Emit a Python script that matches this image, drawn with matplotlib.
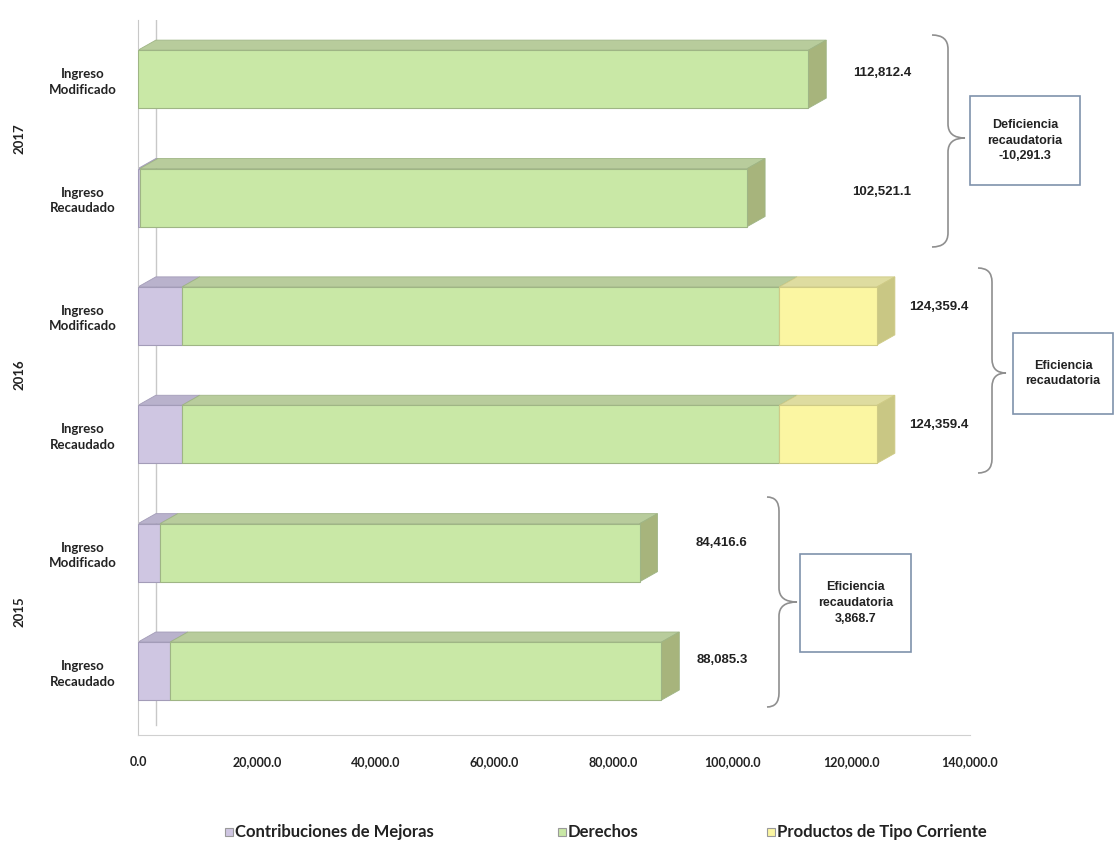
import matplotlib
matplotlib.use("Agg")
import matplotlib.pyplot as plt
from matplotlib.patches import Polygon, Rectangle, PathPatch
from matplotlib.path import Path
import numpy as np

# ---------------- data ----------------
years = ["2015", "2016", "2017"]
row_labels = ["Ingreso\nRecaudado", "Ingreso\nModificado",
              "Ingreso\nRecaudado", "Ingreso\nModificado",
              "Ingreso\nRecaudado", "Ingreso\nModificado"]
series_names = ["Contribuciones de Mejoras", "Derechos", "Productos de Tipo Corriente"]
contribuciones = [5400.0, 3700.0, 7400.0, 7400.0, 350.0, 0.0]
derechos = [82685.3, 80716.6, 100500.0, 100500.0, 102171.1, 112812.4]
productos = [0.0, 0.0, 16459.4, 16459.4, 0.0, 0.0]
xticks = [0, 20000, 40000, 60000, 80000, 100000, 120000, 140000]
box_texts = ["Eficiencia\nrecaudatoria\n3,868.7",
             "Eficiencia\nrecaudatoria",
             "Deficiencia\nrecaudatoria\n-10,291.3"]

# ---------------- styles ----------------
HUM = ["Lato", "DejaVu Sans"]
ARI = ["Liberation Sans", "DejaVu Sans"]
front_cols = ["#cfc6e2", "#c9e8a6", "#fbf6a2"]
top_cols = ["#b9b2cc", "#b8cc9c", "#dedca0"]
side_cols = ["#a9a3bd", "#a7b47c", "#c9c784"]
edge_cols = ["#a39cb8", "#9fb585", "#cfcb86"]

W, H = 1114, 852
fig = plt.figure(figsize=(W / 100, H / 100), dpi=100)
ax = fig.add_axes([138 / W, 1 - 735 / H, 832 / W, (735 - 20) / H])

def fx(x):
    return x / W

def fy(y):
    return 1 - y / H

ypos = np.arange(len(row_labels))
h = 0.49
dx = 3000.0
dy = 0.085
series = [contribuciones, derechos, productos]
totals = np.sum(series, axis=0)

ax.set_xlim(0, 140000)
ax.set_ylim(-0.54, 5.5)

# back wall zero line
ax.plot([dx, dx], [-0.54 + dy, 5.5], color="#c8c8c8", lw=1, zorder=0)

for i, yv in enumerate(ypos):
    left = 0.0
    nonzero = [k for k in range(3) if series[k][i] > 0]
    last = nonzero[-1]
    for k in range(3):
        v = series[k][i]
        if v <= 0:
            continue
        ax.barh(yv, v, left=left, height=h, color=front_cols[k],
                edgecolor=edge_cols[k], linewidth=0.8, zorder=3)
        top = [(left, yv + h / 2), (left + dx, yv + h / 2 + dy),
               (left + v + dx, yv + h / 2 + dy), (left + v, yv + h / 2)]
        ax.add_patch(Polygon(top, closed=True, facecolor=top_cols[k],
                             edgecolor=edge_cols[k], lw=0.6, zorder=2))
        if k == last:
            side = [(left + v, yv - h / 2), (left + v, yv + h / 2),
                    (left + v + dx, yv + h / 2 + dy), (left + v + dx, yv - h / 2 + dy)]
            ax.add_patch(Polygon(side, closed=True, facecolor=side_cols[k],
                                 edgecolor=edge_cols[k], lw=0.6, zorder=2))
        left += v

for s in ["top", "right"]:
    ax.spines[s].set_visible(False)
ax.spines["left"].set_color("#c8c8c8")
ax.spines["bottom"].set_color("#d0d0d0")

ax.set_xticks(xticks)
ax.set_xticklabels([f"{t:,.1f}" for t in xticks], family=HUM,
                   fontweight="bold", fontsize=9, color="#222222")
ax.tick_params(axis="x", length=0, pad=15)
ax.set_yticks(ypos)
ax.set_yticklabels(row_labels, family=HUM, fontsize=9.5,
                   fontweight="bold", color="#222222", ha="center",
                   linespacing=1.35)
ax.tick_params(axis="y", length=0, pad=40)

# year labels
for j, yr in enumerate(years):
    yc = (ypos[2 * j] + ypos[2 * j + 1]) / 2
    ax.text(-0.142, yc, yr, transform=ax.get_yaxis_transform(), rotation=90,
            ha="center", va="center", fontsize=9.5, fontweight="bold",
            family=HUM, color="#222222")

# value labels (pixel positions)
label_pos = [(722, 660), (722, 543), (939, 425), (939, 307), (882, 192), (882, 73)]
for i, (px, py) in enumerate(label_pos):
    fig.text(fx(px), fy(py), f"{totals[i]:,.1f}", ha="center", va="center",
             fontsize=9.5, fontweight="bold", family=ARI, color="#222222")

# braces
def brace(x_end, x_mid, x_tip, y_top, y_tip, y_bot, r=14):
    verts = [(x_end, y_top), (x_mid, y_top), (x_mid, y_top + r),
             (x_mid, y_tip - r), (x_mid, y_tip), (x_tip, y_tip),
             (x_mid, y_tip), (x_mid, y_tip + r),
             (x_mid, y_bot - r), (x_mid, y_bot), (x_end, y_bot)]
    codes = [Path.MOVETO, Path.CURVE3, Path.CURVE3,
             Path.LINETO, Path.CURVE3, Path.CURVE3,
             Path.CURVE3, Path.CURVE3,
             Path.LINETO, Path.CURVE3, Path.CURVE3]
    verts = [(fx(a), fy(b)) for a, b in verts]
    fig.add_artist(PathPatch(Path(verts, codes), transform=fig.transFigure,
                             facecolor="none", edgecolor="#8f8f8f", lw=1.2))

brace(767, 779, 797, 497, 602, 707)
brace(978, 992, 1006, 268, 373, 473)
brace(932, 948, 965, 35, 138, 247)

# boxes
boxes = [(800, 554, 911, 652), (1013, 333, 1113, 414), (970, 96, 1080, 185)]
for (x0, y0, x1, y1), txt in zip(boxes, box_texts):
    fig.add_artist(Rectangle((fx(x0), fy(y1)), fx(x1) - fx(x0), fy(y0) - fy(y1),
                             transform=fig.transFigure, facecolor="white",
                             edgecolor="#7f92ac", lw=1.2))
    fig.text(fx((x0 + x1) / 2), fy((y0 + y1) / 2), txt, ha="center", va="center",
             fontsize=9, family=ARI, fontweight="bold", color="#222222",
             linespacing=1.4)

# legend (manual layout)
leg_x = [225, 558, 767]
for k in range(3):
    fig.add_artist(Rectangle((fx(leg_x[k]), fy(836)), 8 / W, 8 / H,
                             transform=fig.transFigure, facecolor=front_cols[k],
                             edgecolor="#9a9a9a", lw=0.8))
    fig.text(fx(leg_x[k] + 10), fy(832), series_names[k], ha="left", va="center",
             fontsize=12, fontweight="bold", family=HUM, color="#222222")

fig.savefig("out.png", dpi=100, facecolor="white")
